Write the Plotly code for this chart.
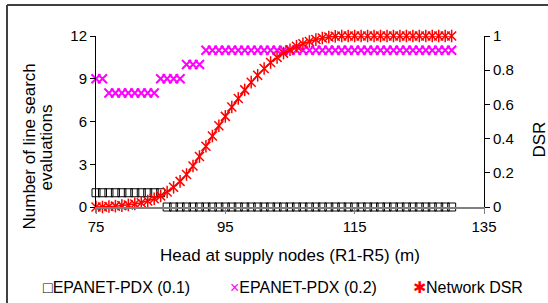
import plotly.graph_objects as go

# ---- data ----
head = [75, 76, 77, 78, 79, 80, 81, 82, 83, 84, 85, 86, 87, 88, 89, 90, 91, 92, 93, 94,
        95, 96, 97, 98, 99, 100, 101, 102, 103, 104, 105, 106, 107, 108, 109, 110, 111, 112,
        113, 114, 115, 116, 117, 118, 119, 120, 121, 122, 123, 124, 125, 126, 127, 128, 129, 130]

pdx_01 = [1, 1, 1, 1, 1, 1, 1, 1, 1, 1, 1,
          0, 0, 0, 0, 0, 0, 0, 0, 0, 0, 0, 0, 0, 0, 0, 0, 0, 0, 0, 0, 0, 0, 0, 0, 0, 0, 0,
          0, 0, 0, 0, 0, 0, 0, 0, 0, 0, 0, 0, 0, 0, 0, 0, 0, 0]

pdx_02 = [9, 9, 8, 8, 8, 8, 8, 8, 8, 8, 9, 9, 9, 9, 10, 10, 10,
          11, 11, 11, 11, 11, 11, 11, 11, 11, 11, 11, 11, 11, 11, 11, 11, 11, 11, 11, 11, 11,
          11, 11, 11, 11, 11, 11, 11, 11, 11, 11, 11, 11, 11, 11, 11, 11, 11, 11]

network_dsr = [0, 0, 0.003, 0.005, 0.008, 0.012, 0.018, 0.025, 0.035, 0.048, 0.065, 0.088,
               0.115, 0.15, 0.19, 0.24, 0.295, 0.355, 0.415, 0.475, 0.53, 0.585, 0.635, 0.685,
               0.73, 0.77, 0.81, 0.845, 0.875, 0.9, 0.92, 0.94, 0.955, 0.968, 0.979, 0.988,
               0.994, 0.998, 1, 1, 1, 1, 1, 1, 1, 1, 1, 1, 1, 1, 1, 1, 1, 1, 1, 1]

x_ticks = [75, 95, 115, 135]
y1_ticks = [0, 3, 6, 9, 12]
y2_ticks = [0, 0.2, 0.4, 0.6, 0.8, 1]

series_names = ["EPANET-PDX (0.1)", "EPANET-PDX (0.2)", "Network DSR"]
x_title = "Head at supply nodes (R1-R5) (m)"
y1_title_lines = ["Number of line search", "evaluations"]
y2_title = "DSR"

# ---- layout geometry ----
W, H = 548, 303
L, R, T, B = 96, 64, 36, 96
PW, PH = W - L - R, H - T - B
FONT = "Liberation Sans, Arial, sans-serif"


def px(xp):
    return (xp - L) / PW


def py(yp):
    return (H - B - yp) / PH


fig = go.Figure()

fig.add_trace(go.Scatter(
    x=head, y=pdx_01, name=series_names[0], mode="markers", cliponaxis=False,
    marker=dict(symbol="square-open", size=8, color="#000000", line=dict(width=1, color="#000000")),
))
fig.add_trace(go.Scatter(
    x=head, y=pdx_02, name=series_names[1], mode="markers", cliponaxis=False,
    marker=dict(symbol="x-thin-open", size=9, color="#FF00FF", line=dict(width=2, color="#FF00FF")),
))
fig.add_trace(go.Scatter(
    x=head, y=network_dsr, name=series_names[2], mode="lines+markers", yaxis="y2", cliponaxis=False,
    line=dict(color="#FF0000", width=1.5),
    marker=dict(symbol="x-thin-open", size=9, color="#FF0000", line=dict(width=1.5, color="#FF0000")),
))
fig.add_trace(go.Scatter(
    x=head, y=network_dsr, name=series_names[2], mode="markers", yaxis="y2", cliponaxis=False,
    showlegend=False,
    marker=dict(symbol="line-ns-open", size=9, color="#FF0000", line=dict(width=1.5, color="#FF0000")),
))

fig.update_layout(
    width=W, height=H,
    margin=dict(l=L, r=R, t=T, b=B, pad=0),
    paper_bgcolor="white", plot_bgcolor="white",
    showlegend=False,
    font=dict(family=FONT, size=15, color="#000000"),
    xaxis=dict(
        range=[75, 135], tickvals=x_ticks, ticktext=[str(v) for v in x_ticks],
        showgrid=False, zeroline=False,
        showline=True, linecolor="#808080", linewidth=1.5,
        ticks="outside", ticklen=5, tickcolor="#808080",
        tickfont=dict(size=15),
        title=dict(text=x_title, font=dict(size=17), standoff=15),
    ),
    yaxis=dict(
        range=[0, 12], tickvals=y1_ticks,
        showgrid=False, zeroline=False,
        showline=True, linecolor="#000000", linewidth=1,
        ticks="outside", ticklen=5, tickcolor="#000000",
        tickfont=dict(size=15),
    ),
    yaxis2=dict(
        range=[0, 1], tickvals=y2_ticks, ticktext=["0", "0.2", "0.4", "0.6", "0.8", "1"],
        overlaying="y", side="right", anchor="x",
        showgrid=False, zeroline=False,
        showline=True, linecolor="#000000", linewidth=1,
        ticks="outside", ticklen=5, tickcolor="#000000",
        tickfont=dict(size=15),
    ),
)

annotations = []
for xp, line in zip([28.5, 45.5], y1_title_lines):
    annotations.append(dict(
        x=px(xp), y=py(147), xref="paper", yref="paper", text=line, showarrow=False,
        textangle=-90, xanchor="center", yanchor="middle", font=dict(size=17),
    ))
annotations.append(dict(
    x=px(539), y=py(139.5), xref="paper", yref="paper", text=y2_title, showarrow=False,
    textangle=-90, xanchor="center", yanchor="middle", font=dict(size=17),
))

legend_items = [
    (42, "#000000", "\u25A1", series_names[0]),
    (229, "#FF00FF", "\u00D7", series_names[1]),
    (412, "#FF0000", "\u2731", series_names[2]),
]
for xp, col, sym, name in legend_items:
    annotations.append(dict(
        x=px(xp), y=py(287), xref="paper", yref="paper",
        text=f"<span style='color:{col}'>{sym}</span>{name}", showarrow=False,
        xanchor="left", yanchor="middle", font=dict(size=16), borderpad=0,
    ))
fig.update_layout(annotations=annotations)

# outer chart border (top and left edges visible in the reference crop)
fig.add_shape(type="line", xref="paper", yref="paper",
              x0=px(7), x1=px(W + 10), y0=py(5), y1=py(5),
              line=dict(color="#404040", width=2))
fig.add_shape(type="line", xref="paper", yref="paper",
              x0=px(7), x1=px(7), y0=py(5), y1=py(H + 10),
              line=dict(color="#404040", width=2))

fig.write_html("out.html", config={"displayModeBar": False},
               post_script="document.body.style.margin='0';")
